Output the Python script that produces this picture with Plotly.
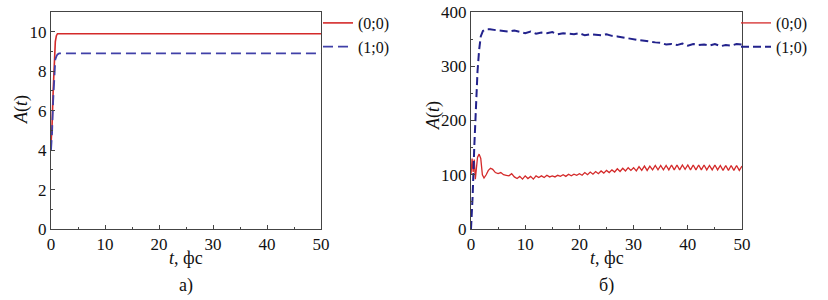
import plotly.graph_objects as go

# ---- panel a) data ----
t_a = [0, 0.2, 0.4, 0.6, 0.8, 1.0, 1.2, 1.5, 2, 5, 10, 20, 30, 40, 50]
red_a = [4.3, 5.3, 7.0, 8.6, 9.5, 9.8, 9.9, 9.9, 9.9, 9.9, 9.9, 9.9, 9.9, 9.9, 9.9]
blue_a = [4.0, 4.9, 6.5, 8.0, 8.6, 8.75, 8.85, 8.9, 8.9, 8.9, 8.9, 8.9, 8.9, 8.9, 8.9]

# ---- panel b) data ----
t_b_red = [0, 0.2, 0.4, 0.6, 0.8, 1.0, 1.2, 1.5, 1.8, 2.1, 2.4, 2.8, 3.2, 3.6, 4.0, 4.5,
           5.0, 5.5, 6.0, 6.5, 7.0, 7.5, 8.0,
           8.5, 9, 9.5, 10, 10.5, 11, 11.5, 12,
           12.5, 13, 13.5, 14, 14.5, 15, 15.5, 16, 16.5, 17, 17.5, 18, 18.5, 19, 19.5, 20,
           20.5, 21, 21.5, 22, 22.5, 23, 23.5, 24, 24.5, 25, 25.5, 26, 26.5, 27, 27.5, 28,
           28.5, 29, 29.5, 30,
           30.5, 31, 31.5, 32, 32.5, 33, 33.5, 34, 34.5, 35, 35.5, 36, 36.5, 37, 37.5, 38,
           38.5, 39, 39.5, 40, 40.5, 41, 41.5, 42, 42.5, 43, 43.5, 44, 44.5, 45, 45.5, 46,
           46.5, 47, 47.5, 48, 48.5, 49, 49.5, 50]
red_b = [100, 130, 105, 128, 92, 118, 132, 138, 130, 100, 94, 100, 108, 112, 110, 104,
         102, 104, 100, 99, 98, 102, 96,
         93, 97, 92, 98, 93, 97, 92, 98,
         95, 98, 95, 99, 96, 98, 96, 99, 97, 100, 97, 101, 98, 101, 99, 102,
         99, 104, 100, 105, 101, 106, 102, 107, 103, 108, 104, 109, 105, 111, 106, 112,
         107, 113, 108, 113,
         107, 115, 108, 116, 108, 116, 109, 117, 109, 117, 109, 117, 109, 118, 109, 118,
         109, 118, 110, 118, 109, 118, 109, 118, 109, 118, 109, 117, 109, 118, 109, 117,
         108, 117, 108, 117, 108, 117, 108, 116]

t_b_blue = [0, 0.3, 0.6, 0.9, 1.2, 1.5, 1.8, 2.2, 2.7, 3.5, 4.5,
            5, 6, 7, 8, 9, 10, 11, 12, 13, 14, 15, 16, 17, 18, 19, 20, 21, 22, 23, 24, 25,
            26, 27, 28, 29, 30, 31, 32, 33, 34, 35, 36, 37, 38, 39, 40, 41, 42, 43, 44, 45,
            46, 47, 48, 49, 50]
blue_b = [0, 60, 150, 230, 290, 330, 355, 365, 368, 368, 366,
          366, 365, 364, 366, 363, 361, 364, 360, 362, 361, 363, 359, 361, 360, 359, 361,
          357, 359, 358, 357, 359, 356, 355, 353, 352, 350, 348, 347, 345, 344, 343, 340,
          341, 339, 342, 338, 341, 339, 340, 338, 341, 337, 339, 338, 341, 340]

x_ticks = [0, 10, 20, 30, 40, 50]
y_ticks_a = [0, 2, 4, 6, 8, 10]
y_ticks_b = [0, 100, 200, 300, 400]
legend_names = ["(0;0)", "(1;0)"]

RED = "#d42a2a"
BLUE_A = "#4040a8"
BLUE_B = "#22228c"
FONT = "Liberation Serif"

fig = go.Figure()
fig.add_trace(go.Scatter(x=t_a, y=red_a, mode="lines", name=legend_names[0],
                         line=dict(color=RED, width=1.6), xaxis="x", yaxis="y", legend="legend"))
fig.add_trace(go.Scatter(x=t_a, y=blue_a, mode="lines", name=legend_names[1],
                         line=dict(color=BLUE_A, width=1.8, dash="10px,5px"), xaxis="x", yaxis="y",
                         legend="legend"))
fig.add_trace(go.Scatter(x=t_b_red, y=red_b, mode="lines", name=legend_names[0],
                         line=dict(color=RED, width=1.3), xaxis="x2", yaxis="y2", legend="legend2"))
fig.add_trace(go.Scatter(x=t_b_blue, y=blue_b, mode="lines", name=legend_names[1],
                         line=dict(color=BLUE_B, width=2, dash="8px,4px"), xaxis="x2", yaxis="y2",
                         legend="legend2"))

axis_common = dict(showgrid=False, zeroline=False, showline=True, linecolor="#444",
                   linewidth=1, mirror=True, ticks="inside", ticklen=4, tickcolor="#444",
                   automargin=False, ticklabelstandoff=0,
                   tickfont=dict(family=FONT, size=17, color="#111"))

ydom = [71 / 300, 288 / 300]
LEG_Y = 1 - 6 / 300
fig.update_layout(
    template="none",
    width=828, height=300,
    margin=dict(l=0, r=0, t=0, b=0),
    paper_bgcolor="white", plot_bgcolor="white",
    font=dict(family=FONT, size=17, color="#111"),
    xaxis=dict(domain=[51 / 828, 321 / 828], range=[0, 50], tickvals=x_ticks,
               minor=dict(ticks="inside", ticklen=2, dtick=5, tickcolor="#444"),
               anchor="y", **axis_common),
    yaxis=dict(domain=ydom, range=[0, 11], tickvals=y_ticks_a,
               minor=dict(ticks="inside", ticklen=2, dtick=1, tickcolor="#444"),
               anchor="x", **axis_common),
    xaxis2=dict(domain=[471 / 828, 742 / 828], range=[0, 50], tickvals=x_ticks,
                minor=dict(ticks="inside", ticklen=2, dtick=5, tickcolor="#444"),
                anchor="y2", **axis_common),
    yaxis2=dict(domain=ydom, range=[0, 400], tickvals=y_ticks_b,
                minor=dict(ticks="inside", ticklen=2, dtick=50, tickcolor="#444"),
                anchor="x2", **axis_common),
    legend=dict(x=318 / 828, y=LEG_Y, xanchor="left", yanchor="top",
                font=dict(family=FONT, size=16, color="#111"), bgcolor="rgba(0,0,0,0)",
                borderwidth=0, itemwidth=30, tracegroupgap=0),
    legend2=dict(x=736 / 828, y=LEG_Y, xanchor="left", yanchor="top",
                 font=dict(family=FONT, size=16, color="#111"), bgcolor="rgba(0,0,0,0)",
                 borderwidth=0, itemwidth=30, tracegroupgap=0),
    showlegend=True,
)

ann = []
for xc, lab, yl, ylc in [((51 + 321) / 2, "а)", 21, 110), ((471 + 742) / 2, "б)", 433, 116)]:
    ann.append(dict(x=xc / 828, y=1 - 258 / 300, xref="paper", yref="paper",
                    xanchor="center", yanchor="middle",
                    text="<i>t</i>, фс", showarrow=False,
                    font=dict(family=FONT, size=18, color="#111")))
    ann.append(dict(x=xc / 828, y=1 - 285 / 300, xref="paper", yref="paper",
                    xanchor="center", yanchor="middle",
                    text=lab, showarrow=False,
                    font=dict(family=FONT, size=18, color="#111")))
    ann.append(dict(x=yl / 828, y=1 - ylc / 300, xref="paper", yref="paper",
                    xanchor="center", yanchor="middle",
                    text="<i>A</i>(<i>t</i>)", showarrow=False, textangle=-90,
                    font=dict(family=FONT, size=18, color="#111")))
fig.update_layout(annotations=ann)

fig.write_html("out.html", config={"displayModeBar": False},
               post_script="document.body.style.margin='0';")
